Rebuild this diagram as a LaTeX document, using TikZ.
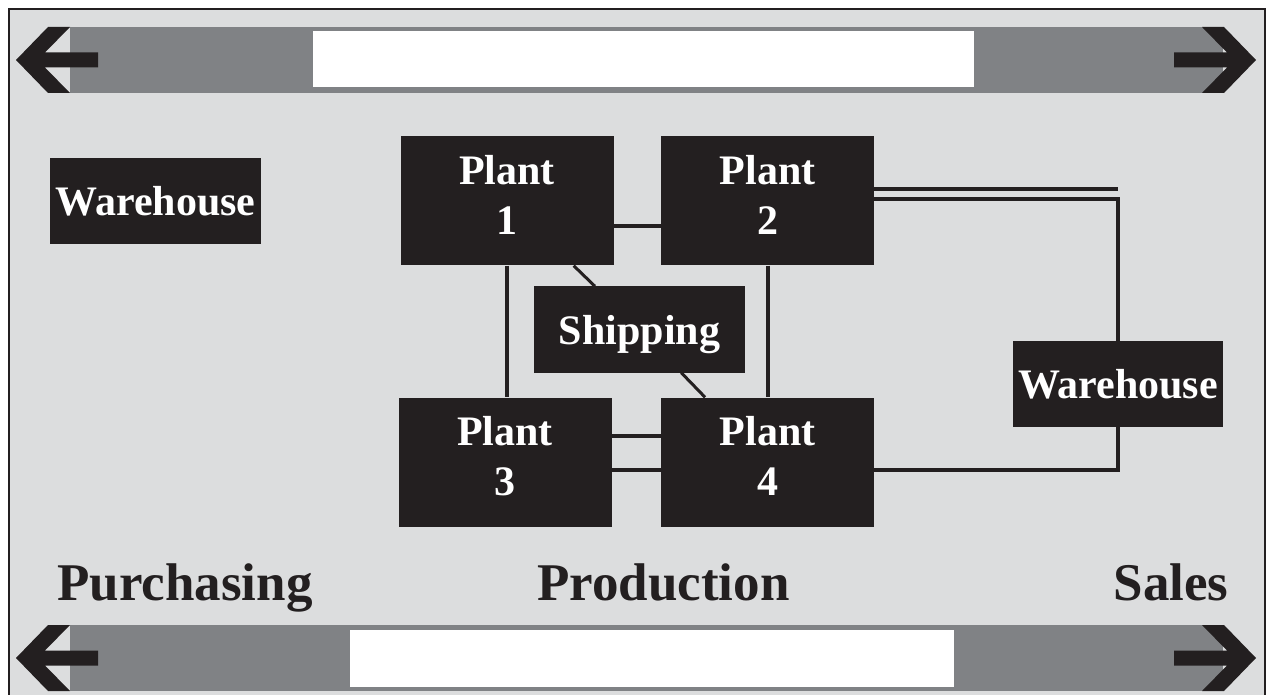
\documentclass[tikz,border=0pt]{standalone}
\usepackage{fontspec}
\setmainfont{Liberation Serif}
\definecolor{panel}{HTML}{DCDDDE}
\definecolor{band}{HTML}{808285}
\definecolor{ink}{HTML}{231F20}
\tikzstyle{block} = [rectangle, fill=ink, text=white, inner sep=0pt, align=center, text depth=0pt, font=\bfseries\fontsize{42}{50}\selectfont]
\tikzstyle{plant} = [block, text depth=12pt, minimum width=213pt, minimum height=129pt]
\tikzstyle{depot} = [block, minimum width=211pt, minimum height=86pt]
\tikzstyle{area} = [text=ink, anchor=base, font=\bfseries\fontsize{53}{60}\selectfont]
\tikzset{edge/.style = {
    draw=ink,
    line width=4pt,
  }
}
\newcommand{\chevron}[1]{%
  \fill[ink] (16,#1) -- (48,#1-33) -- (70,#1-33) -- (45,#1-7.5) -- (98,#1-7.5)
    -- (98,#1+7.5) -- (45,#1+7.5) -- (70,#1+33) -- (48,#1+33) -- cycle;
}
\newcommand{\flowband}[1]{%
  \fill[band] (70,#1-33) rectangle (1223,#1+33);
  \chevron{#1}
  \begin{scope}[shift={(1272,0)}, xscale=-1]
    \chevron{#1}
  \end{scope}
}

\begin{document}
\begin{tikzpicture}[x=1pt, y=-1pt]
            \useasboundingbox (0,0) rectangle (1270,695);
            % panel and bands
            \fill[panel] (9,9) rectangle (1265,700);
            \draw[ink, line width=2pt] (9,700) -- (9,9) -- (1265,9) -- (1265,700);
            \flowband{60}
            \flowband{658}
            \fill[white] (313,31) rectangle (974,87);
            \fill[white] (350,630) rectangle (954,687);

            % vertices
            \node[depot] (wh1) at (155.5,201) {Warehouse};
            \node[plant] (p1) at (507,201) {Plant\\1};
            \node[plant] (p2) at (767.5,201) {Plant\\2};
            \node[depot] (ship) at (639.5,329.5) {Shipping};
            \node[plant] (p3) at (505,462) {Plant\\3};
            \node[plant] (p4) at (767.5,462) {Plant\\4};
            \node[depot, minimum width=210pt] (wh2) at (1118,384) {Warehouse};

            %edges
            \draw[edge] ([yshift=-25pt]p1.east) -- ([yshift=-25pt]p1.east -| p2.west);
            \draw[edge] (p1.south) -- (p1.south |- p3.north);
            \draw[edge] (p2.south) -- (p2.south |- p4.north);
            \draw[edge] ([yshift=26pt]p3.east) -- ([yshift=26pt]p3.east -| p4.west);
            \draw[edge] ([yshift=-8pt]p3.east) -- ([yshift=-8pt]p3.east -| p4.west);
            \draw[edge, line width=3pt] (p1) -- (ship);
            \draw[edge, line width=3pt] (ship) -- (p4);
            \draw[edge] ([yshift=12pt]p2.east) -- ([yshift=12pt]p2.east -| wh2.north);
            \draw[edge] ([yshift=2pt]p2.east) -| (wh2.north);
            \draw[edge] ([yshift=-8pt]p4.east) -| (wh2.south);

            % areas
            \node[area] (buy) at (185,600) {Purchasing};
            \node[area] (make) at (663.5,600) {Production};
            \node[area] (sell) at (1171,600) {Sales};
\end{tikzpicture}
\end{document}
